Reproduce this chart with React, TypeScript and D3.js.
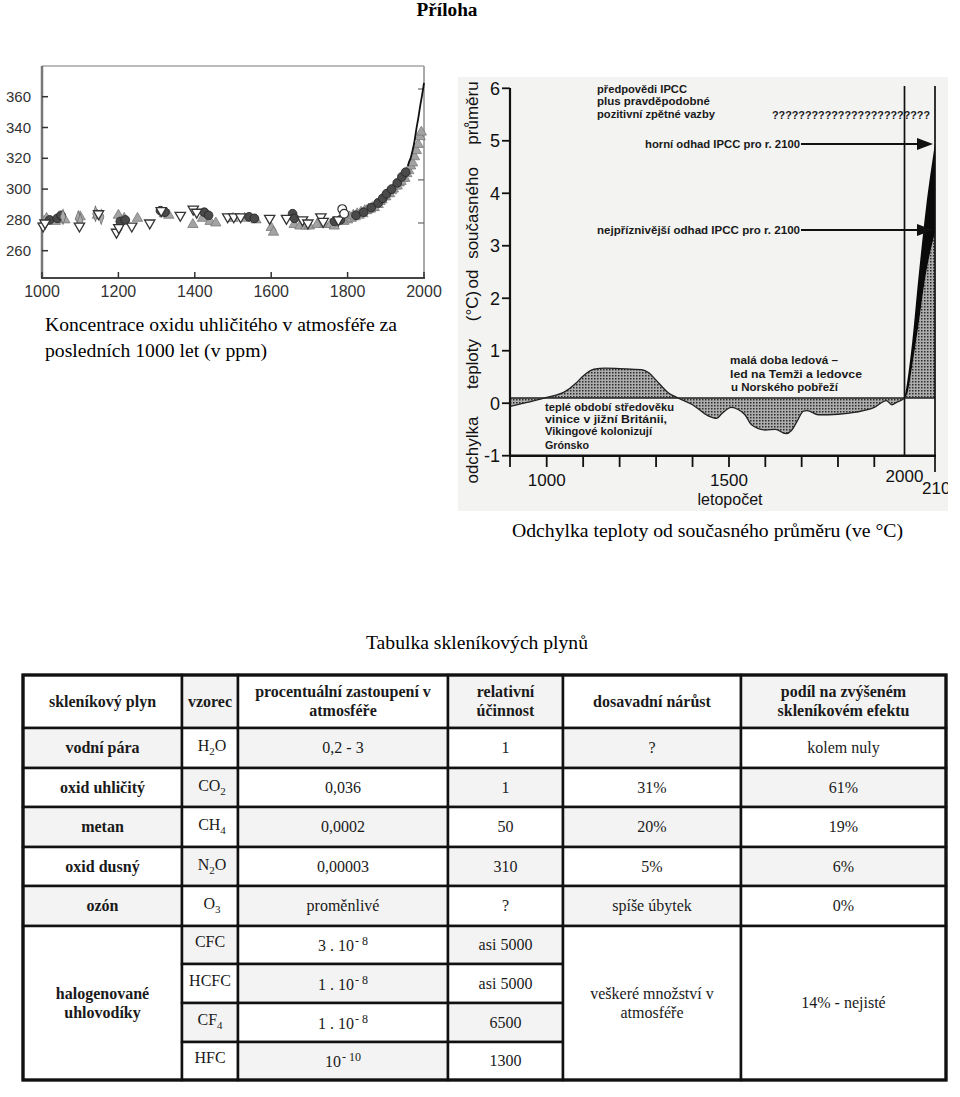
import React from "react";
import * as d3 from "d3";

// ---------------- CO2 chart data (year, ppm) ----------------
const co2YearTicks = [1000, 1200, 1400, 1600, 1800, 2000];
const co2PpmTicks = [260, 280, 300, 320, 340, 360];
const co2TriUp: [number, number][] = [
  [1005, 279], [1012, 281], [1035, 279], [1060, 280], [1100, 282], [1145, 283], [1200, 283], [1215, 281],
  [1250, 281], [1320, 284], [1332, 283], [1395, 277], [1420, 281], [1440, 279], [1455, 278], [1500, 281],
  [1530, 281], [1560, 280], [1600, 275], [1606, 272], [1660, 277], [1675, 276], [1690, 276], [1700, 276],
  [1720, 277], [1740, 277], [1755, 277], [1765, 276], [1790, 279], [1800, 280], [1805, 282], [1810, 281],
  [1815, 283], [1820, 282], [1825, 284], [1830, 283], [1835, 285], [1840, 284], [1845, 286], [1850, 286],
  [1855, 287], [1860, 287], [1865, 288], [1870, 288], [1875, 290], [1880, 290], [1885, 292], [1890, 293],
  [1895, 295], [1900, 295], [1905, 297], [1910, 297], [1915, 299], [1920, 300], [1925, 302], [1930, 302],
  [1935, 304], [1940, 305], [1945, 307], [1950, 307], [1955, 310], [1960, 312], [1965, 315], [1970, 317],
  [1975, 321], [1980, 325], [1985, 329], [1990, 334], [1993, 337],
];
const co2TriDown: [number, number][] = [
  [1003, 276], [1008, 278], [1098, 276], [1148, 284], [1195, 272], [1201, 275], [1235, 276], [1282, 278],
  [1312, 286], [1362, 283], [1396, 287], [1405, 285], [1486, 282], [1502, 282], [1520, 282], [1596, 281],
  [1640, 281], [1682, 280], [1696, 278], [1730, 282], [1736, 279], [1776, 280],
];
const co2Dark: [number, number][] = [
  [1020, 280], [1040, 281], [1050, 283], [1205, 279], [1218, 280], [1310, 286], [1322, 285], [1425, 285],
  [1436, 283], [1542, 282], [1556, 281], [1656, 284], [1661, 281], [1766, 279], [1781, 280], [1822, 283],
  [1842, 285], [1862, 288], [1880, 291], [1892, 294], [1902, 297], [1915, 300], [1930, 304], [1942, 308],
  [1952, 311],
];
const co2Open: [number, number][] = [[1786, 287], [1791, 284]];
const co2Diamond: [number, number][] = [[1055, 282], [1095, 281], [1100, 279], [1140, 284], [1155, 282]];
const co2MaunaLoaYears = [1958, 1960, 1965, 1970, 1975, 1980, 1985, 1990, 1995, 2000];
const co2MaunaLoaPpm = [315, 317, 320, 325, 331, 339, 346, 354, 361, 369];

// ---------------- Temperature chart data ----------------
const tempValueTicks = [-1, 0, 1, 2, 3, 4, 5, 6];
const tempYearTicks = [900, 1000, 1100, 1200, 1300, 1400, 1500, 1600, 1700, 1800, 1900];
const tempYearLabels = [1000, 1500, 2000, 2100];
const tempBaseline = 0.1;
const histYears = [900, 950, 1000, 1050, 1080, 1100, 1130, 1160, 1200, 1260, 1280, 1300, 1335, 1360, 1400,
  1443, 1466, 1480, 1507, 1525, 1544, 1562, 1600, 1628, 1656, 1672, 1687, 1705, 1715, 1746, 1801, 1850,
  1900, 1940, 1958, 1975, 1991, 2000];
const histValues = [-0.06, 0.02, 0.11, 0.22, 0.38, 0.52, 0.65, 0.67, 0.66, 0.64, 0.58, 0.44, 0.19, 0.1, -0.03,
  -0.24, -0.29, -0.2, -0.08, -0.12, -0.22, -0.41, -0.51, -0.5, -0.58, -0.52, -0.35, -0.15, -0.14, -0.22, -0.21,
  -0.17, -0.08, 0.05, -0.03, 0.02, 0.06, 0.1];
const futureYears = [2000, 2010, 2025, 2045, 2070, 2100];
const futureUpper = [0.1, 0.45, 1.15, 2.35, 3.7, 4.95];
const futureLower = [0.1, 0.2, 0.7, 1.45, 2.45, 3.25];

// ---------------- Table data ----------------
const tableHeaders = [
  ["skleníkový plyn"], ["vzorec"], ["procentuální zastoupení v", "atmosféře"],
  ["relativní", "účinnost"], ["dosavadní nárůst"], ["podíl na zvýšeném", "skleníkovém efektu"],
];
const gasNames = ["vodní pára", "oxid uhličitý", "metan", "oxid dusný", "ozón"];
const gasFormulas: [string, string, string][] = [["H", "2", "O"], ["CO", "2", ""], ["CH", "4", ""], ["N", "2", "O"], ["O", "3", ""]];
const gasShares = ["0,2 - 3", "0,036", "0,0002", "0,00003", "proměnlivé"];
const gasEfficiency = ["1", "1", "50", "310", "?"];
const gasIncrease = ["?", "31%", "20%", "5%", "spíše úbytek"];
const gasContribution = ["kolem nuly", "61%", "19%", "6%", "0%"];
const haloName = ["halogenované", "uhlovodíky"];
const haloFormulas: [string, string, string][] = [["CFC", "", ""], ["HCFC", "", ""], ["CF", "4", ""], ["HFC", "", ""]];
const haloShares: [string, string][] = [["3 . 10", "- 8"], ["1 . 10", "- 8"], ["1 . 10", "- 8"], ["10", "- 10"]];
const haloEfficiency = ["asi 5000", "asi 5000", "6500", "1300"];
const haloIncrease = ["veškeré množství v", "atmosféře"];
const haloContribution = "14% - nejisté";

const SERIF = "'Liberation Serif', 'Times New Roman', serif";
const SANS = "'Liberation Sans', Arial, sans-serif";

function CO2Chart() {
  const x = d3.scaleLinear().domain([1000, 2000]).range([42, 424]);
  const y = d3.scaleLinear().domain([260, 360]).range([250.7, 96.7]);
  const top = 66, bottom = 278;
  const tri = d3.symbol().type(d3.symbolTriangle).size(46)() as string;
  const circ = d3.symbol().type(d3.symbolCircle).size(60)() as string;
  const diam = d3.symbol().type(d3.symbolDiamond).size(40)() as string;
  const line = d3.line<number>().x((d, i) => x(co2MaunaLoaYears[i])).y((d) => y(d)).curve(d3.curveMonotoneX);
  return (
    <g>
      <rect x={42} y={top} width={382} height={bottom - top} fill="#fff" />
      <line x1={42} x2={424} y1={top} y2={top} stroke="#bbb" strokeWidth={2} />
      <line x1={424} x2={424} y1={top} y2={bottom} stroke="#aaa" strokeWidth={2} />
      <line x1={42} x2={42} y1={top} y2={bottom} stroke="#777" strokeWidth={2.5} />
      <line x1={41} x2={425} y1={bottom} y2={bottom} stroke="#444" strokeWidth={2} />
      {[278, 306, 334, 365].map((v) => (
        <line key={v} x1={418} x2={424} y1={y(v)} y2={y(v)} stroke="#666" strokeWidth={1.2} />
      ))}
      {co2PpmTicks.map((v) => (
        <g key={v}>
          <line x1={42} x2={48} y1={y(v)} y2={y(v)} stroke="#333" strokeWidth={1.5} />
          <text x={31} y={y(v) + 5} textAnchor="end" fontFamily={SANS} fontSize={15} fill="#333">{v}</text>
        </g>
      ))}
      {co2YearTicks.map((v) => (
        <g key={v}>
          <line x1={x(v)} x2={x(v)} y1={bottom} y2={bottom - 6} stroke="#333" strokeWidth={1.5} />
          <text x={x(v)} y={297} textAnchor="middle" fontFamily={SANS} fontSize={16} fill="#333">{v}</text>
        </g>
      ))}
      {co2TriUp.map(([a, b], i) => (
        <path key={"u" + i} d={tri} transform={`translate(${x(a)},${y(b)})`} fill="#a3a3a3" stroke="#7a7a7a" strokeWidth={0.8} />
      ))}
      {co2Dark.map(([a, b], i) => (
        <path key={"c" + i} d={circ} transform={`translate(${x(a)},${y(b)})`} fill="#4a4a4a" stroke="#222" strokeWidth={0.8} />
      ))}
      {co2Diamond.map(([a, b], i) => (
        <path key={"d" + i} d={diam} transform={`translate(${x(a)},${y(b)}) scale(0.8,1.3)`} fill="#aaa" stroke="#666" strokeWidth={0.8} />
      ))}
      {co2TriDown.map(([a, b], i) => (
        <path key={"n" + i} d={tri} transform={`translate(${x(a)},${y(b)}) rotate(180)`} fill="#fff" stroke="#333" strokeWidth={1.3} />
      ))}
      {co2Open.map(([a, b], i) => (
        <path key={"o" + i} d={circ} transform={`translate(${x(a)},${y(b)})`} fill="#fff" stroke="#333" strokeWidth={1.2} />
      ))}
      <path d={line(co2MaunaLoaPpm) as string} fill="none" stroke="#111" strokeWidth={1.8} />
    </g>
  );
}

function TempChart() {
  const x = d3.scaleLinear().domain([900, 1000, 1500, 1900, 2000, 2100]).range([510, 546.7, 729, 874.3, 904.5, 935]);
  const y = d3.scaleLinear().domain([-1, 6]).range([455.7, 88.3]);
  const yb = y(tempBaseline);
  const histArea = d3.area<number>().x((d, i) => x(histYears[i])).y0(yb).y1((d) => y(d)).curve(d3.curveMonotoneX);
  const histLine = d3.line<number>().x((d, i) => x(histYears[i])).y((d) => y(d)).curve(d3.curveMonotoneX);
  const lowerArea = d3.area<number>().x((d, i) => x(futureYears[i])).y0(yb).y1((d) => y(d)).curve(d3.curveMonotoneX);
  const band = d3.area<number>().x((d, i) => x(futureYears[i])).y0((d, i) => y(futureLower[i])).y1((d) => y(d)).curve(d3.curveMonotoneX);
  const ann = { fontFamily: SANS, fontSize: 11, fontWeight: 700, fill: "#1a1a1a", lengthAdjust: "spacingAndGlyphs" } as any;
  const axisWords: [string, number][] = [["odchylka", 450], ["teploty", 364], ["(°C)", 306], ["od", 279], ["současného", 213], ["průměru", 113]];
  const arrowTip = 933;
  const arrows: [string, number, number][] = [["horní odhad IPCC pro r. 2100", 645, 144], ["nejpříznivější odhad IPCC pro r. 2100", 597, 230]];
  const arrowWidths = [155, 203];
  return (
    <g clipPath="url(#rclip)">
      <rect x={458} y={77} width={490} height={434} fill="#f3f3f2" />
      <path d={histArea(histValues) as string} fill="url(#stip)" />
      <path d={histLine(histValues) as string} fill="none" stroke="#222" strokeWidth={1.3} />
      <path d={lowerArea(futureLower) as string} fill="url(#stip)" />
      <path d={band(futureUpper) as string} fill="#0a0a0a" />
      <line x1={x(900)} x2={x(2100)} y1={yb} y2={yb} stroke="#222" strokeWidth={1.4} />
      <line x1={510} x2={510} y1={88} y2={456} stroke="#111" strokeWidth={2.2} />
      <line x1={509} x2={936} y1={455.7} y2={455.7} stroke="#111" strokeWidth={2.6} />
      <line x1={x(2000)} x2={x(2000)} y1={86} y2={456} stroke="#111" strokeWidth={1.7} />
      <line x1={x(2100)} x2={x(2100)} y1={86} y2={472} stroke="#111" strokeWidth={1.7} />
      {tempValueTicks.map((v) => (
        <g key={v}>
          <line x1={502} x2={510} y1={y(v)} y2={y(v)} stroke="#111" strokeWidth={1.8} />
          <text x={500} y={y(v) + 6.5} textAnchor="end" fontFamily={SANS} fontSize={18} fill="#111">{v}</text>
        </g>
      ))}
      {tempYearTicks.map((v) => (
        <line key={v} x1={x(v)} x2={x(v)} y1={455} y2={467} stroke="#111" strokeWidth={1.8} />
      ))}
      {tempYearLabels.map((v) => (
        <text key={v} x={x(v) + (v === 2100 ? 6 : 0)} y={v === 2000 ? 482 : v === 2100 ? 494 : 486}
          textAnchor="middle" fontFamily={SANS} fontSize={17} fill="#111">{v}</text>
      ))}
      <text x={730} y={505} textAnchor="middle" fontFamily={SANS} fontSize={16} fill="#111">letopočet</text>
      {axisWords.map(([w, cy]) => (
        <text key={w} transform={`translate(478,${cy}) rotate(-90)`} textAnchor="middle" fontFamily={SANS} fontSize={17} fill="#111">{w}</text>
      ))}
      <text x={597} y={93} textLength={90} {...ann}>předpovědi IPCC</text>
      <text x={597} y={105} textLength={113} {...ann}>plus pravděpodobné</text>
      <text x={597} y={118} textLength={118} {...ann}>pozitivní zpětné vazby</text>
      <text x={772} y={119} textLength={158} {...ann}>????????????????????????</text>
      {arrows.map(([t, x0, yy], i) => (
        <g key={t}>
          <text x={x0} y={yy + 4} textLength={arrowWidths[i]} {...ann}>{t}</text>
          <line x1={x0 + arrowWidths[i] + 1} x2={arrowTip - 12} y1={yy} y2={yy} stroke="#111" strokeWidth={2} />
          <path d={`M${arrowTip},${yy} L${arrowTip - 16},${yy - 6} L${arrowTip - 16},${yy + 6} Z`} fill="#111" />
        </g>
      ))}
      <text x={545} y={411} textLength={129} {...ann}>teplé období středověku</text>
      <text x={545} y={423} textLength={122} {...ann}>vinice v jižní Británii,</text>
      <text x={545} y={435} textLength={107} {...ann}>Vikingové kolonizují</text>
      <text x={545} y={449} textLength={44} {...ann}>Grónsko</text>
      <text x={730} y={364} textLength={108} {...ann}>malá doba ledová –</text>
      <text x={730} y={378} textLength={132} {...ann}>led na Temži a ledovce</text>
      <text x={731} y={391} textLength={107} {...ann}>u Norského pobřeží</text>
    </g>
  );
}

function Table() {
  const colX = [23, 182, 238, 448, 563, 741, 946];
  const rowY = [675, 728, 768, 807, 847, 886, 926, 964, 1003, 1042, 1080];
  const cx = (c: number) => (colX[c] + colX[c + 1]) / 2;
  const cy = (r: number) => (rowY[r] + rowY[r + 1]) / 2;
  const gray = "#f3f3f3";
  const fs = 16;
  const cells: any[] = [];
  const cell = (key: string, c0: number, c1: number, r0: number, r1: number, fill: string) =>
    cells.push(<rect key={key} x={colX[c0]} y={rowY[r0]} width={colX[c1] - colX[c0]} height={rowY[r1] - rowY[r0]} fill={fill} stroke="#111" strokeWidth={2.5} />);
  for (let c = 0; c < 6; c++) cell("h" + c, c, c + 1, 0, 1, c % 2 === 1 ? gray : "#fff");
  for (let r = 1; r <= 5; r++) for (let c = 0; c < 6; c++) cell(`b${r}-${c}`, c, c + 1, r, r + 1, (r + c) % 2 === 1 ? gray : "#fff");
  cell("hn", 0, 1, 6, 10, "#fff");
  for (let r = 6; r <= 9; r++) for (let c = 1; c <= 3; c++) cell(`g${r}-${c}`, c, c + 1, r, r + 1, (r + c) % 2 === 1 ? gray : "#fff");
  cell("hi", 4, 5, 6, 10, "#fff");
  cell("hc", 5, 6, 6, 10, "#fff");
  const T = (key: string, x: number, y: number, s: any, bold = false) => (
    <text key={key} x={x} y={y} textAnchor="middle" fontFamily={SERIF} fontSize={fs} fontWeight={bold ? 700 : 400} fill="#1a1a1a">{s}</text>
  );
  const formula = (f: [string, string, string]) => [
    <tspan key="a">{f[0]}</tspan>,
    f[1] ? <tspan key="b" fontSize={11} dy={4}>{f[1]}</tspan> : null,
    f[2] ? <tspan key="c" dy={-4}>{f[2]}</tspan> : null,
  ];
  const texts: any[] = [];
  tableHeaders.forEach((lines, c) => {
    const n = lines.length;
    lines.forEach((l, i) => texts.push(T(`ht${c}${i}`, cx(c), cy(0) + 5 + (i - (n - 1) / 2) * 19, l, true)));
  });
  gasNames.forEach((g, i) => {
    const r = i + 1;
    texts.push(T(`n${r}`, cx(0), cy(r) + 5, g, true));
    texts.push(T(`f${r}`, cx(1) + 2, cy(r) + 3, formula(gasFormulas[i])));
    texts.push(T(`s${r}`, cx(2), cy(r) + 5, gasShares[i]));
    texts.push(T(`e${r}`, cx(3), cy(r) + 5, gasEfficiency[i]));
    texts.push(T(`i${r}`, cx(4), cy(r) + 5, gasIncrease[i]));
    texts.push(T(`k${r}`, cx(5), cy(r) + 5, gasContribution[i]));
  });
  const midHalo = (rowY[6] + rowY[10]) / 2;
  haloName.forEach((l, i) => texts.push(T(`hn${i}`, cx(0), midHalo + 5 + (i - 0.5) * 19, l, true)));
  haloFormulas.forEach((f, i) => {
    const r = i + 6;
    texts.push(T(`hf${r}`, cx(1), cy(r) + 2, formula(f)));
    texts.push(T(`hs${r}`, cx(2), cy(r) + 6, [
      <tspan key="a">{haloShares[i][0]}</tspan>,
      <tspan key="b" fontSize={12} dy={-6} dx={1}>{haloShares[i][1]}</tspan>,
    ]));
    texts.push(T(`he${r}`, cx(3), cy(r) + 5, haloEfficiency[i]));
  });
  haloIncrease.forEach((l, i) => texts.push(T(`hi${i}`, cx(4), midHalo + 5 + (i - 0.5) * 19, l)));
  texts.push(T("hc", cx(5), midHalo + 5, haloContribution));
  return (
    <g>
      {cells}
      <rect x={colX[0]} y={rowY[0]} width={colX[6] - colX[0]} height={rowY[10] - rowY[0]} fill="none" stroke="#111" strokeWidth={3.2} />
      {texts}
    </g>
  );
}

export default function App() {
  return (
    <svg width={960} height={1097} viewBox="0 0 960 1097" style={{ position: "absolute", left: 0, top: 0, background: "#fff" }}>
      <defs>
        <pattern id="stip" width={3} height={3} patternUnits="userSpaceOnUse">
          <rect width={3} height={3} fill="#adadad" />
          <rect width={1.5} height={1.5} fill="#2c2c2c" />
        </pattern>
        <clipPath id="rclip"><rect x={458} y={77} width={490} height={434} /></clipPath>
      </defs>
      <text x={447} y={16} textAnchor="middle" fontFamily={SERIF} fontSize={18} fontWeight={700} textLength={61} lengthAdjust="spacingAndGlyphs">Příloha</text>
      <CO2Chart />
      <text x={45} y={331} fontFamily={SERIF} fontSize={18} textLength={352} lengthAdjust="spacingAndGlyphs">Koncentrace oxidu uhličitého v atmosféře za</text>
      <text x={45} y={357} fontFamily={SERIF} fontSize={18} textLength={222} lengthAdjust="spacingAndGlyphs">posledních 1000 let (v ppm)</text>
      <TempChart />
      <text x={512} y={537} fontFamily={SERIF} fontSize={18} textLength={391} lengthAdjust="spacingAndGlyphs">Odchylka teploty od současného průměru (ve °C)</text>
      <text x={366} y={649} fontFamily={SERIF} fontSize={18} textLength={222} lengthAdjust="spacingAndGlyphs">Tabulka skleníkových plynů</text>
      <Table />
    </svg>
  );
}
